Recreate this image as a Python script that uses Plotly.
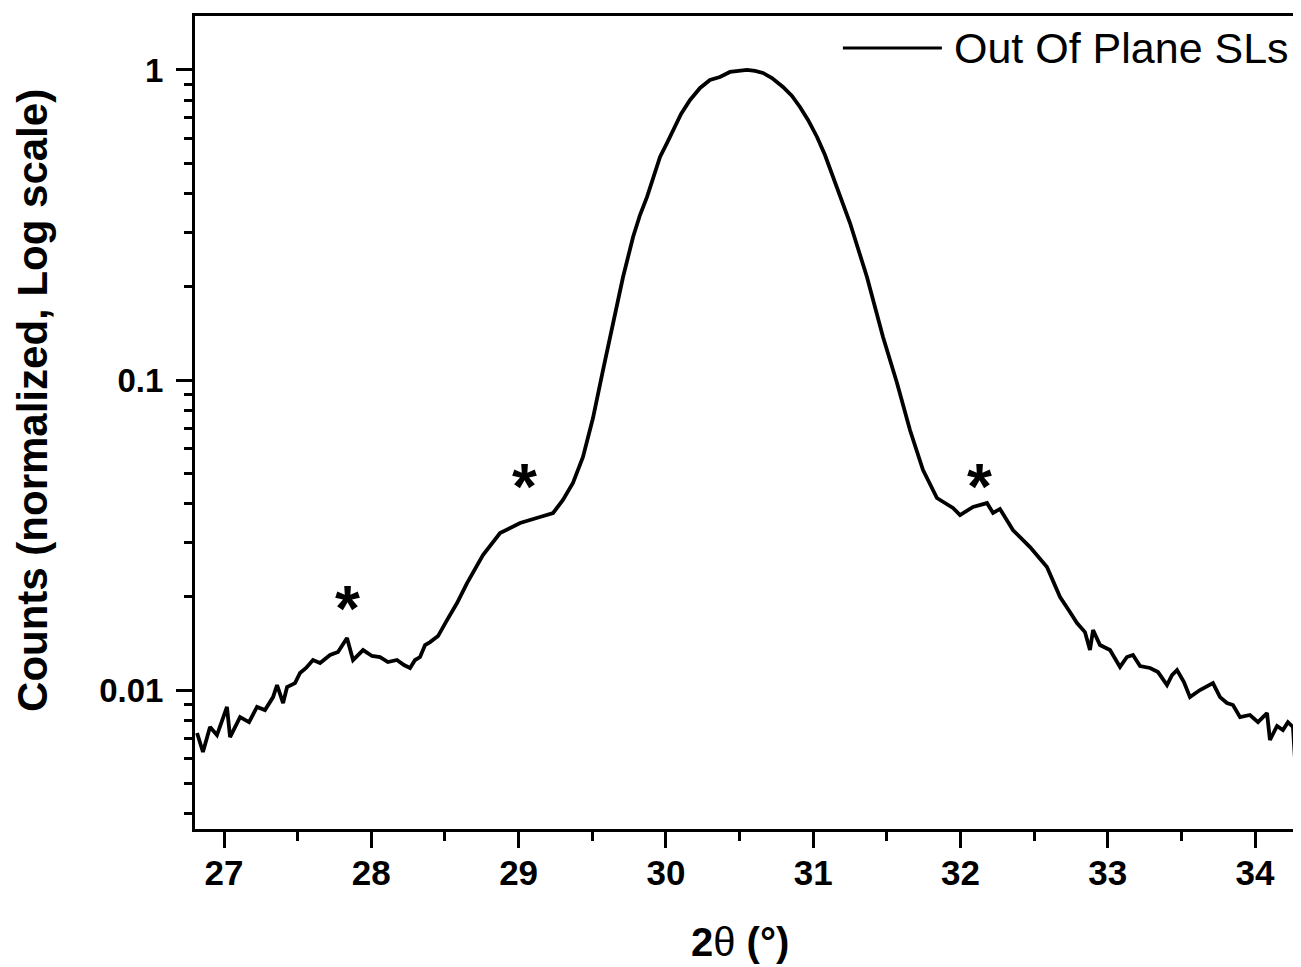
import math
import plotly.graph_objects as go

# 2theta (deg)
two_theta = [26.817, 26.857, 26.905, 26.952, 26.993, 27.020, 27.041, 27.109, 27.170, 27.224,
             27.278, 27.333, 27.360, 27.401, 27.428, 27.482, 27.516, 27.557, 27.604, 27.652,
             27.720, 27.774, 27.835, 27.876, 27.944, 28.005, 28.059, 28.113, 28.174, 28.222,
             28.263, 28.297, 28.331, 28.365, 28.399, 28.453, 28.514, 28.582, 28.650, 28.758,
             28.874, 29.010, 29.145, 29.234, 29.301, 29.369, 29.437, 29.505, 29.573, 29.641,
             29.709, 29.777, 29.824, 29.872, 29.912, 29.960, 30.008, 30.048, 30.103, 30.164,
             30.232, 30.299, 30.367, 30.435, 30.490, 30.551, 30.605, 30.659, 30.720, 30.795,
             30.856, 30.910, 30.965, 31.026, 31.080, 31.134, 31.196, 31.250, 31.365, 31.474,
             31.569, 31.657, 31.745, 31.840, 31.949, 31.997, 32.085, 32.180, 32.221, 32.268,
             32.356, 32.472, 32.587, 32.676, 32.743, 32.791, 32.845, 32.879, 32.900, 32.947,
             33.015, 33.083, 33.130, 33.171, 33.219, 33.287, 33.341, 33.402, 33.436, 33.470,
             33.517, 33.558, 33.626, 33.714, 33.762, 33.809, 33.850, 33.898, 33.965, 34.020,
             34.081, 34.101, 34.149, 34.189, 34.223, 34.257, 34.270]
# normalized counts
counts = [0.00727, 0.00631, 0.00760, 0.00716, 0.00812, 0.00882, 0.00705, 0.00818, 0.00788, 0.00882,
          0.00862, 0.00949, 0.01038, 0.00908, 0.01023, 0.01053, 0.01135, 0.01178, 0.01250, 0.01222,
          0.01297, 0.01327, 0.01472, 0.01250, 0.01346, 0.01288, 0.01278, 0.01231, 0.01250, 0.01204,
          0.01178, 0.01250, 0.01278, 0.01397, 0.01428, 0.01493, 0.01681, 0.01908, 0.02214, 0.02726,
          0.03210, 0.03457, 0.03614, 0.03724, 0.04101, 0.04653, 0.05644, 0.07540, 0.1077, 0.1527,
          0.2149, 0.2892, 0.3405, 0.3894, 0.4484, 0.5241, 0.5815, 0.6404, 0.7211, 0.8003,
          0.8748, 0.9284, 0.9493, 0.9853, 0.9926, 1.0, 0.9926, 0.9780, 0.9423, 0.8815,
          0.8245, 0.7598, 0.6898, 0.6080, 0.5318, 0.4517, 0.3808, 0.3209, 0.2149, 0.1376,
          0.0978, 0.0690, 0.0513, 0.04162, 0.03866, 0.03668, 0.03895, 0.04010, 0.03724, 0.03837,
          0.03281, 0.02892, 0.02493, 0.01995, 0.01785, 0.01645, 0.01538, 0.01346, 0.01561, 0.01397,
          0.01346, 0.01187, 0.01278, 0.01297, 0.01195, 0.01178, 0.01143, 0.01038, 0.01118, 0.01160,
          0.01061, 0.00949, 0.01000, 0.01053, 0.00949, 0.00908, 0.00895, 0.00818, 0.00831, 0.00788,
          0.00843, 0.00690, 0.00766, 0.00743, 0.00788, 0.00760, 0.00608]

series_name = "Out Of Plane SLs"
x_ticks = [27, 28, 29, 30, 31, 32, 33, 34]
x_minor = [26.5, 27.5, 28.5, 29.5, 30.5, 31.5, 32.5, 33.5]
y_ticks = [0.01, 0.1, 1]
y_tick_labels = ["0.01", "0.1", "1"]
y_minor = [0.004, 0.005, 0.006, 0.007, 0.008, 0.009,
           0.02, 0.03, 0.04, 0.05, 0.06, 0.07, 0.08, 0.09,
           0.2, 0.3, 0.4, 0.5, 0.6, 0.7, 0.8, 0.9]
star_x = [27.835, 29.04, 32.13]
star_y = [0.0195, 0.0483, 0.0483]

FONT = "Arial, Liberation Sans, sans-serif"

fig = go.Figure()
fig.add_trace(go.Scatter(x=two_theta, y=counts, mode="lines", name=series_name,
                         line=dict(color="black", width=3.8)))

for sx, sy in zip(star_x, star_y):
    fig.add_annotation(x=sx, y=math.log10(sy), xref="x", yref="y", text="<b>*</b>",
                       xanchor="center", yanchor="middle",
                       showarrow=False, font=dict(size=64, color="black", family=FONT),
                       yshift=-9)

# legend drawn as line + label
fig.add_shape(type="line", xref="paper", yref="paper", x0=0.589, x1=0.679, y0=0.9606, y1=0.9606,
              line=dict(color="black", width=3))
fig.add_annotation(x=0.6885, y=0.9606, xref="paper", yref="paper", text=series_name,
                   xanchor="left", yanchor="middle", showarrow=False,
                   font=dict(size=43, color="black", family=FONT))

# axis titles
fig.add_annotation(x=-0.1473, y=0.5277, xref="paper", yref="paper",
                   xanchor="center", yanchor="middle",
                   text="<b>Counts (normalized, Log scale)</b>", textangle=-90,
                   showarrow=False, font=dict(size=42, color="black", family=FONT))
fig.add_annotation(x=0.4955, y=-0.139, xref="paper", yref="paper",
                   xanchor="center", yanchor="middle",
                   text="<b>2</b>θ<b> (°)</b>", showarrow=False,
                   font=dict(size=40, color="black", family=FONT))

# page body has an 8px default margin, so the figure is sized to fit the window
fig.update_layout(
    width=1293, height=959,
    margin=dict(l=187, r=6, t=8, b=138, autoexpand=False),
    plot_bgcolor="white", paper_bgcolor="white",
    showlegend=False,
    font=dict(family=FONT, color="black"),
)
fig.update_xaxes(
    range=[26.803, 34.271], tickmode="array", tickvals=x_ticks, automargin=False,
    ticks="outside", ticklen=16, tickwidth=3, tickcolor="black", ticklabelstandoff=-5,
    showline=True, linewidth=3, linecolor="black", mirror=True,
    showgrid=False, zeroline=False,
    tickfont=dict(size=35, weight="bold", family=FONT, color="black"),
    minor=dict(ticks="outside", ticklen=9, tickwidth=3, tickcolor="black",
               tickvals=x_minor, showgrid=False),
)
fig.update_yaxes(
    type="log", range=[math.log10(0.003563), math.log10(1.493)], automargin=False,
    tickmode="array", tickvals=y_ticks, ticktext=y_tick_labels,
    ticks="outside", ticklen=16, tickwidth=3, tickcolor="black", ticklabelstandoff=6,
    showline=True, linewidth=3, linecolor="black", mirror=True,
    showgrid=False, zeroline=False,
    tickfont=dict(size=33, weight="bold", family=FONT, color="black"),
    minor=dict(ticks="outside", ticklen=8, tickwidth=3, tickcolor="black",
               tickvals=y_minor, showgrid=False),
)

fig.write_html("out.html")
